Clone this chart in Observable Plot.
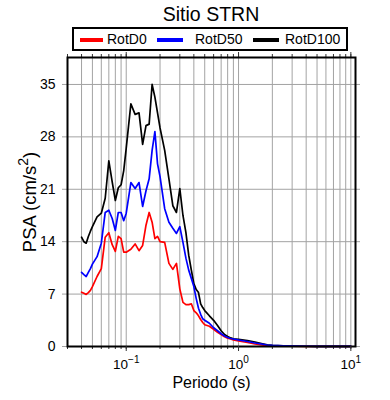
<!DOCTYPE html>
<html>
<head>
<meta charset="utf-8">
<script src="https://cdn.jsdelivr.net/npm/d3@7"></script>
<script src="https://cdn.jsdelivr.net/npm/@observablehq/plot@0.6"></script>
<style>
  body { margin: 0; background: #fff; }
  #wrap { position: relative; width: 390px; height: 400px; overflow: hidden;
          font-family: "Liberation Sans", Arial, Helvetica, sans-serif; color: #000; }
  #title { position: absolute; left: 67px; width: 288px; top: 3px; text-align: center;
           font-size: 19.5px; line-height: normal; white-space: nowrap; }
  #legend { position: absolute; left: 72px; top: 27px; width: 276px; height: 24px;
            border: 2px solid #000; box-sizing: border-box; }
  .sw { position: absolute; height: 4px; top: 38px; }
  .lt { position: absolute; top: 31px; font-size: 14px; line-height: normal; white-space: nowrap; }
  #chart { position: absolute; left: 0; top: 52px; }
</style>
</head>
<body>
<div id="wrap">
  <div id="title"></div>
  <div id="legend"></div>
  <div id="chart"></div>
</div>
<script>
const titleText = "Sitio STRN";
const xLabel = "Periodo (s)";
const yLabel = "PSA (cm/s^2)";

const periods = [
  0.04, 0.042, 0.044, 0.046, 0.048, 0.05,
  0.055, 0.06, 0.065, 0.07, 0.075, 0.08, 0.085, 0.09, 0.095, 0.1,
  0.11, 0.12, 0.13, 0.14, 0.15, 0.16, 0.17, 0.18, 0.19, 0.2,
  0.22, 0.24, 0.26, 0.28, 0.3,
  0.32, 0.34, 0.36, 0.38, 0.4,
  0.42, 0.44, 0.46, 0.48, 0.5,
  0.55, 0.6, 0.65, 0.7, 0.75, 0.8, 0.85, 0.9, 0.95, 1.0,
  1.2, 1.4, 1.6, 1.8, 2.0,
  2.5, 3, 4, 5, 6, 7, 8, 10
];

const rotD0 = [
  7.25, 7.1, 6.95, 7.2, 7.5, 8.0,
  9.35, 10.4, 14.6, 15.2, 13.6, 12.7, 14.7, 14.4, 12.6, 12.6,
  13.0, 13.7, 12.8, 13.5, 16.2, 17.9, 16.6, 14.4, 14.7, 14.0,
  13.9, 11.1, 10.3, 11.1, 7.7,
  5.9, 5.6, 5.6, 5.7, 4.8,
  4.5, 4.1, 3.6, 3.2, 2.9,
  2.7, 2.3, 1.9, 1.6, 1.3, 1.1, 1.0, 0.87, 0.8, 0.73,
  0.53, 0.33, 0.2, 0.1, 0.07,
  0.04, 0.03, 0.02, 0.015, 0.01, 0.008, 0.006, 0.004
];

const rotD50 = [
  9.9, 9.6, 9.35, 9.9, 10.4, 11.0,
  12.0, 13.8, 17.9, 18.2, 17.1, 15.5, 17.9, 17.9, 16.8, 17.8,
  21.9, 21.1, 21.9, 18.7, 20.8, 22.4, 26.2, 28.7, 24.4, 22.7,
  18.4, 16.6, 15.8, 15.1, 16.0,
  13.9, 11.8, 10.2, 9.1, 8.0,
  6.4, 5.1, 4.3, 3.7, 3.5,
  3.1, 2.5, 2.1, 1.7, 1.4, 1.2, 1.07, 1.0, 0.93, 0.87,
  0.67, 0.47, 0.33, 0.2, 0.14,
  0.08, 0.05, 0.03, 0.02, 0.015, 0.01, 0.008, 0.005
];

const rotD100 = [
  14.6, 14.0, 13.8, 14.7, 15.4, 16.0,
  17.3, 17.8, 19.8, 24.8, 22.0, 19.5, 21.2, 21.6, 23.5, 26.5,
  32.4, 31.0, 31.2, 27.0, 29.5, 29.7, 35.0, 33.3, 31.2, 29.2,
  26.2, 22.4, 18.8, 17.9, 21.1,
  17.5, 15.2, 12.2, 10.2, 8.4,
  7.6, 7.2, 5.7, 5.2, 4.8,
  4.1, 3.5, 2.8, 2.1, 1.6, 1.35, 1.15, 1.03, 1.0, 0.96,
  0.8, 0.6, 0.4, 0.23, 0.15,
  0.08, 0.05, 0.03, 0.02, 0.015, 0.01, 0.008, 0.005
];

const seriesNames = ["RotD0", "RotD50", "RotD100"];
const seriesColors = ["#ff0000", "#0000ff", "#000000"];

const yTicks = [0, 7, 14, 21, 28, 35];
const xMajorTicks = [0.1, 1, 10];
const xMinorTicks = [0.03, 0.04, 0.05, 0.06, 0.07, 0.08, 0.09, 0.1,
                     0.2, 0.3, 0.4, 0.5, 0.6, 0.7, 0.8, 0.9, 1,
                     2, 3, 4, 5, 6, 7, 8, 9, 10];

// ----- title & legend (HTML, above the SVG) -----
document.getElementById("title").textContent = titleText;
const wrap = document.getElementById("wrap");
const swatchX = [80, 157, 253], swatchW = [23, 26, 26], labelX = [107, 195, 285];
seriesNames.forEach((name, i) => {
  const sw = document.createElement("div");
  sw.className = "sw";
  sw.style.left = swatchX[i] + "px";
  sw.style.width = swatchW[i] + "px";
  sw.style.background = seriesColors[i];
  wrap.appendChild(sw);
  const lt = document.createElement("div");
  lt.className = "lt";
  lt.style.left = labelX[i] + "px";
  lt.textContent = name;
  wrap.appendChild(lt);
});

// ----- data tables -----
const table = (vals, name) => periods.map((p, i) => ({period: p, psa: vals[i], series: name}));
const t0 = table(rotD0, seriesNames[0]);
const t50 = table(rotD50, seriesNames[1]);
const t100 = table(rotD100, seriesNames[2]);

const font = "'Liberation Sans', Arial, Helvetica, sans-serif";
const expFmt = d => "10^" + Math.round(Math.log10(d));
const yTop = 38.6;

const chart = Plot.plot({
  width: 390,
  height: 348,
  marginTop: 5,
  marginBottom: 54,
  marginLeft: 67,
  marginRight: 35,
  style: {fontFamily: font, background: "white", overflow: "visible", color: "black"},
  x: {type: "log", domain: [0.03, 11]},
  y: {domain: [0, yTop]},
  marks: [
    // grid
    Plot.ruleX(xMinorTicks, {stroke: "#a3a3a3", strokeWidth: 1}),
    Plot.ruleY(yTicks, {stroke: "#a3a3a3", strokeWidth: 1, insetLeft: -5, insetRight: -5}),
    // short outward ticks, bottom and top
    Plot.ruleX(xMinorTicks, {y1: 0, y2: 0, insetBottom: -3, stroke: "#333", strokeWidth: 1}),
    Plot.ruleX(xMinorTicks, {y1: yTop, y2: yTop, insetTop: -3, stroke: "#333", strokeWidth: 1}),
    Plot.ruleX(xMajorTicks, {y1: yTop, y2: yTop, insetTop: -5, stroke: "#333", strokeWidth: 1}),
    // series
    Plot.line(t0, {x: "period", y: "psa", stroke: seriesColors[0], strokeWidth: 1.7}),
    Plot.line(t100, {x: "period", y: "psa", stroke: seriesColors[2], strokeWidth: 1.7}),
    Plot.line(t50, {x: "period", y: "psa", stroke: seriesColors[1], strokeWidth: 1.7}),
    Plot.frame({stroke: "black", strokeWidth: 2}),
    // axes
    Plot.axisX({ticks: xMajorTicks, tickSize: 5, tickPadding: 8, fontSize: 13.5,
                tickFormat: expFmt, label: null, stroke: "#333"}),
    Plot.axisY({ticks: yTicks, tickSize: 0, tickPadding: 12, fontSize: 14, label: null}),
    Plot.text([xLabel], {frameAnchor: "bottom", dy: 30, lineAnchor: "top", textAnchor: "middle",
                         fontSize: 16, text: d => d}),
    Plot.text([yLabel], {frameAnchor: "left", dx: -45, rotate: -90, lineAnchor: "top",
                         textAnchor: "middle", fontSize: 18.5, text: d => d})
  ]
});

// superscripts written as "^" in the label strings
const svgns = "http://www.w3.org/2000/svg";
function superscript(t, fontPx) {
  const s = t.textContent;
  if (!s.includes("^")) return;
  const i = s.indexOf("^");
  const base = s.slice(0, i);
  const rest = s.slice(i + 1);
  const m = rest.match(/^[-0-9]+/);
  const exp = m ? m[0] : rest;
  const tail = rest.slice(exp.length);
  const raise = Math.round(fontPx * 0.42);
  t.textContent = base;
  const sup = document.createElementNS(svgns, "tspan");
  sup.setAttribute("dy", -raise);
  sup.setAttribute("font-size", Math.round(fontPx * 0.75));
  sup.textContent = exp.replace("-", "\u2212");
  t.appendChild(sup);
  if (tail) {
    const tl = document.createElementNS(svgns, "tspan");
    tl.setAttribute("dy", raise);
    tl.textContent = tail;
    t.appendChild(tl);
  }
}
chart.querySelectorAll('[aria-label="x-axis tick label"] text').forEach(t => superscript(t, 13.5));
chart.querySelectorAll('[aria-label="text"] text').forEach(t => superscript(t, 18.5));

document.getElementById("chart").appendChild(chart);
</script>
</body>
</html>
